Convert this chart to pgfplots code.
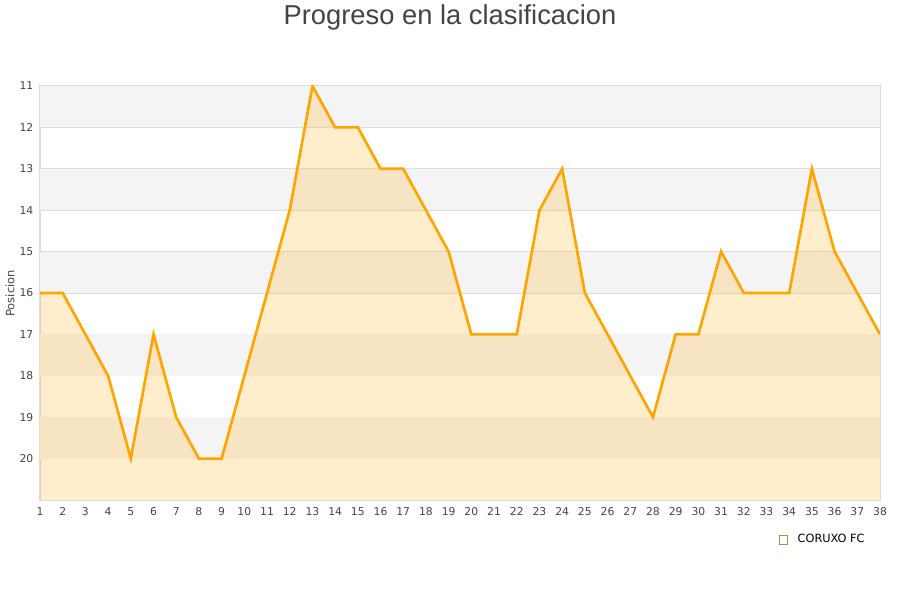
\documentclass[border=0pt]{standalone}
\usepackage{pgfplots}
\pgfplotsset{compat=1.18}
\usepackage{fontspec}
\setmainfont{DejaVu Sans}
\newfontfamily\titlefont{Liberation Sans}
\definecolor{linecol}{HTML}{FFA500}
\definecolor{band}{HTML}{F4F4F4}
\definecolor{gridcol}{HTML}{DDDDDD}
\definecolor{txt}{HTML}{444444}
\begin{document}
\begin{tikzpicture}
\useasboundingbox (0pt,0pt) rectangle (675pt,450pt);
\node[font=\titlefont\fontsize{20.5}{24}\selectfont, text=txt] at (337.5pt,437pt) {Progreso en la clasificacion};
\node[rotate=90, font=\fontsize{8.6}{10}\selectfont, text=txt] at (7.5pt,230pt) {Posicion};
\begin{axis}[
  at={(30pt,75pt)}, anchor=south west,
  scale only axis, width=630pt, height=310.5pt,
  xmin=1, xmax=38, ymin=11, ymax=21,
  y dir=reverse,
  xtick={1,...,38},
  ytick={11,...,21},
  yticklabels={11,12,13,14,15,16,17,18,19,20,{}},
  major tick length=0pt,
  ymajorgrids, grid style={gridcol, line width=0.75pt},
  axis line style={gridcol, line width=0.75pt},
  tick label style={font=\fontsize{8.1}{9}\selectfont, text=txt},
  /pgf/number format/assume math mode=true,
  xticklabel style={yshift=-2pt},
  yticklabel style={xshift=-1.5pt},
  legend style={at={(0.99,-0.07)}, anchor=north east, draw=none, fill=none,
    font=\fontsize{8.5}{10}\selectfont, text=black},
  legend cell align=left,
]
\fill[band] (axis cs:1,11) rectangle (axis cs:38,12);
\fill[band] (axis cs:1,13) rectangle (axis cs:38,14);
\fill[band] (axis cs:1,15) rectangle (axis cs:38,16);
\fill[band] (axis cs:1,17) rectangle (axis cs:38,18);
\fill[band] (axis cs:1,19) rectangle (axis cs:38,20);
% area down to the bottom of the axis
\addplot[fill=linecol, fill opacity=0.2, draw=none,
  legend image code/.code={\draw[fill=linecol!20, draw=linecol!40!gray, line width=0.5pt] (0pt,-3.2pt) rectangle (6.5pt,3.2pt); \path (12pt,0pt);}]
  coordinates {
 (1,21)
 (1,16) (2,16) (3,17) (4,18) (5,20) (6,17) (7,19) (8,20) (9,20) (10,18)
 (11,16) (12,14) (13,11) (14,12) (15,12) (16,13) (17,13) (18,14) (19,15) (20,17)
 (21,17) (22,17) (23,14) (24,13) (25,16) (26,17) (27,18) (28,19) (29,17) (30,17)
 (31,15) (32,16) (33,16) (34,16) (35,13) (36,15) (37,16) (38,17)
 (38,21)
} -- cycle;
\addlegendentry{CORUXO FC}
\addplot[color=linecol, line width=2pt, forget plot] coordinates {
 (1,16) (2,16) (3,17) (4,18) (5,20) (6,17) (7,19) (8,20) (9,20) (10,18)
 (11,16) (12,14) (13,11) (14,12) (15,12) (16,13) (17,13) (18,14) (19,15) (20,17)
 (21,17) (22,17) (23,14) (24,13) (25,16) (26,17) (27,18) (28,19) (29,17) (30,17)
 (31,15) (32,16) (33,16) (34,16) (35,13) (36,15) (37,16) (38,17)
};
\end{axis}
\end{tikzpicture}
\end{document}
